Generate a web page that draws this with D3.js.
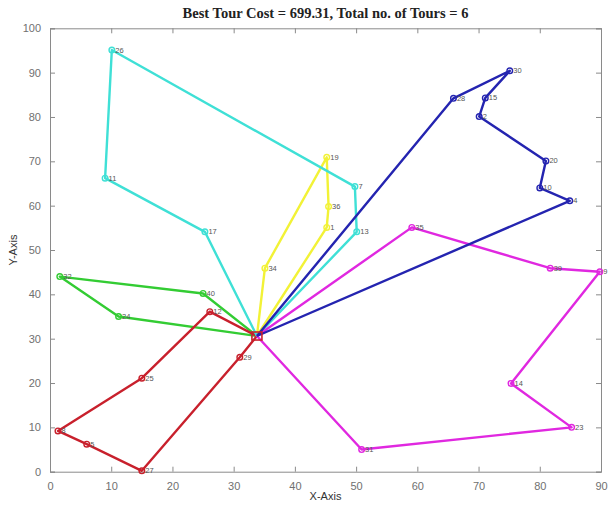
<!DOCTYPE html>
<html>
<head>
<meta charset="utf-8">
<script src="https://cdn.jsdelivr.net/npm/d3@7"></script>
<style>
  html, body { margin: 0; padding: 0; background: #fff; }
  svg { display: block; }
</style>
</head>
<body>
<div id="chart"></div>
<script>
// ---- data ----
const titleText = "Best Tour Cost = 699.31, Total no. of Tours = 6";
const xTicks = [0, 10, 20, 30, 40, 50, 60, 70, 80, 90];
const yTicks = [0, 10, 20, 30, 40, 50, 60, 70, 80, 90, 100];
const depot = [33.8, 30.6];

const greenX = [25.0, 1.6, 11.2];
const greenY = [40.2, 44.0, 35.0];
const greenLabels = ["40", "32", "24"];

const redX = [26.1, 15.0, 1.3, 6.0, 15.0, 31.0];
const redY = [36.1, 21.1, 9.2, 6.2, 0.2, 25.8];
const redLabels = ["12", "25", "8", "5", "27", "29"];

const yellowX = [35.1, 45.2, 45.5, 45.2];
const yellowY = [45.9, 70.9, 59.8, 55.1];
const yellowLabels = ["34", "19", "36", "1"];

const cyanX = [25.3, 9.0, 10.1, 49.8, 50.1];
const cyanY = [54.1, 66.2, 95.1, 64.3, 54.1];
const cyanLabels = ["17", "11", "26", "7", "13"];

const magentaX = [59.1, 81.7, 89.8, 75.3, 85.2, 50.9];
const magentaY = [55.1, 45.9, 45.1, 19.9, 10.0, 5.0];
const magentaLabels = ["35", "39", "9", "14", "23", "31"];

const blueX = [65.9, 75.1, 71.1, 70.1, 81.0, 80.0, 84.9];
const blueY = [84.2, 90.4, 84.3, 80.1, 70.1, 64.0, 61.1];
const blueLabels = ["28", "30", "15", "2", "20", "10", "4"];

const routeColors = ["#33cc33", "#c8202c", "#f2f236", "#3fe0d6", "#e028e0", "#2424b0"];

(function () {
  const routes = [
    [greenX, greenY, greenLabels],
    [redX, redY, redLabels],
    [yellowX, yellowY, yellowLabels],
    [cyanX, cyanY, cyanLabels],
    [magentaX, magentaY, magentaLabels],
    [blueX, blueY, blueLabels]
  ].map((r, i) => ({
    color: routeColors[i],
    pts: r[0].map((xv, j) => ({ x: xv, y: r[1][j], label: r[2][j] }))
  }));

  const W = 611, H = 506;
  const pL = 50, pR = 601, pT = 28.3, pB = 471.7;

  const svg = d3.select("#chart").append("svg")
    .attr("width", W).attr("height", H)
    .style("font-family", "'Liberation Sans', Arial, sans-serif");

  const x = d3.scaleLinear().domain([0, 90]).range([pL, pR]);
  const y = d3.scaleLinear().domain([0, 100]).range([pB, pT]);

  const axisColor = "#8a8a8a";
  const tickTextColor = "#707070";

  const gx = svg.append("g").attr("transform", `translate(0,${pB})`)
    .call(d3.axisBottom(x).tickValues(xTicks).tickSize(-5).tickPadding(11).tickFormat(d3.format("d")));
  const gxTop = svg.append("g").attr("transform", `translate(0,${pT})`)
    .call(d3.axisTop(x).tickValues(xTicks).tickSize(-5).tickFormat(""));
  const gy = svg.append("g").attr("transform", `translate(${pL},0)`)
    .call(d3.axisLeft(y).tickValues(yTicks).tickSize(-5).tickPadding(9).tickFormat(d3.format("d")));
  const gyR = svg.append("g").attr("transform", `translate(${pR},0)`)
    .call(d3.axisRight(y).tickValues(yTicks).tickSize(-5).tickFormat(""));

  [gx, gxTop, gy, gyR].forEach(g => {
    g.select(".domain").attr("stroke", axisColor).attr("stroke-width", 1);
    g.selectAll(".tick line").attr("stroke", axisColor);
    g.selectAll(".tick text").attr("fill", tickTextColor).style("font-size", "11px");
  });

  const line = d3.line().x(d => x(d.x)).y(d => y(d.y));
  const dep = { x: depot[0], y: depot[1] };

  const routeG = svg.append("g");
  routes.forEach(r => {
    const path = [dep].concat(r.pts, [dep]);
    routeG.append("path")
      .datum(path)
      .attr("d", line)
      .attr("fill", "none")
      .attr("stroke", r.color)
      .attr("stroke-width", 2.4)
      .attr("stroke-linejoin", "round");
    routeG.selectAll(null).data(r.pts).enter().append("circle")
      .attr("cx", d => x(d.x)).attr("cy", d => y(d.y)).attr("r", 2.8)
      .attr("fill", "none").attr("stroke", r.color).attr("stroke-width", 1.4);
  });

  routes.forEach(r => {
    routeG.selectAll(null).data(r.pts).enter().append("text")
      .attr("x", d => x(d.x) + 3.5).attr("y", d => y(d.y) + 2.5)
      .attr("fill", "#555")
      .style("font-size", "7.5px")
      .text(d => d.label);
  });

  routeG.append("rect")
    .attr("x", x(dep.x) - 5).attr("y", y(dep.y) - 4)
    .attr("width", 10).attr("height", 8)
    .attr("fill", "none").attr("stroke", "#c8202c").attr("stroke-width", 1.6);

  svg.append("text")
    .attr("x", (pL + pR) / 2).attr("y", 18)
    .attr("text-anchor", "middle")
    .style("font-family", "'Liberation Serif', 'Times New Roman', serif")
    .style("font-weight", "bold")
    .style("font-size", "14.5px")
    .attr("fill", "#222")
    .text(titleText);

  svg.append("text")
    .attr("x", (pL + pR) / 2).attr("y", 500)
    .attr("text-anchor", "middle")
    .attr("fill", "#333")
    .style("font-size", "11px")
    .text("X-Axis");
  svg.append("text")
    .attr("transform", `translate(17,${(pT + pB) / 2}) rotate(-90)`)
    .attr("text-anchor", "middle")
    .attr("fill", "#333")
    .style("font-size", "11px")
    .text("Y-Axis");
})();
</script>
</body>
</html>
